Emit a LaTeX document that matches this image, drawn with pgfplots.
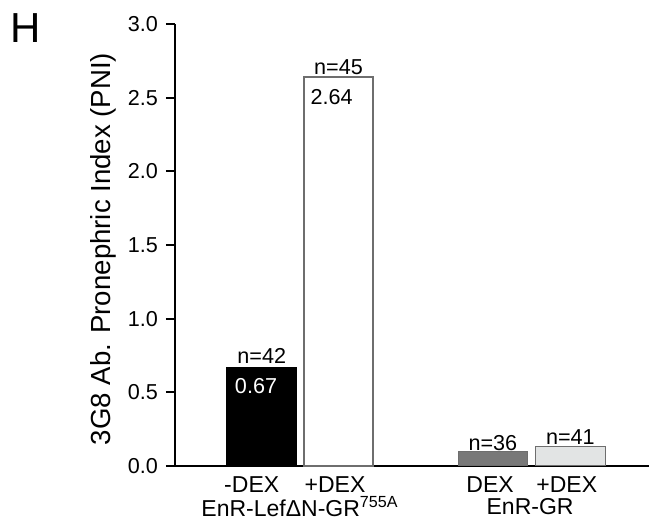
\documentclass[border=0pt]{standalone}
\usepackage{pgfplots}
\pgfplotsset{compat=1.18}
\usepackage{fontspec}
\setmainfont{Liberation Sans}
\definecolor{barg}{RGB}{120,120,120}
\definecolor{barlg}{RGB}{226,228,228}
\definecolor{edgeg}{RGB}{110,110,110}
\begin{document}
\begin{tikzpicture}
\useasboundingbox (0,0) rectangle (324.5pt,261pt);
\node[font=\fontsize{21}{24}\selectfont] at (12.75pt,247pt) {H};
\node[rotate=90,font=\fontsize{13.8}{16}\selectfont] at (51.5pt,136.5pt) {3G8 Ab. Pronephric Index (PNI)};
\begin{axis}[
  at={(87.5pt,28pt)}, anchor=south west,
  scale only axis, width=237pt, height=221pt,
  xmin=175, xmax=649, ymin=0, ymax=3,
  axis lines*=left,
  axis line style={line width=1pt, black},
  xtick=\empty,
  ytick={0,0.5,1,1.5,2,2.5,3},
  tick align=outside,
  major tick length=4.5pt,
  every tick/.style={black, line width=1pt},
  yticklabel style={font=\fontsize{10.8}{12}\selectfont, /pgf/number format/fixed, /pgf/number format/fixed zerofill, /pgf/number format/precision=1, xshift=-0.5pt},
  /pgf/number format/assume math mode=true,
  clip=false,
]
\addplot[ybar, bar shift=0pt, bar width=70, fill=black, draw=black, line width=0.5pt] coordinates {(261.7,0.67)};
\addplot[ybar, bar shift=0pt, bar width=69, fill=white, draw=edgeg, line width=0.6pt] coordinates {(338.5,2.64)};
\addplot[ybar, bar shift=0pt, bar width=69.5, fill=barg, draw=edgeg, line width=0.5pt] coordinates {(492.8,0.10)};
\addplot[ybar, bar shift=0pt, bar width=69.5, fill=barlg, draw=edgeg, line width=0.5pt] coordinates {(570.3,0.13)};
\begin{scope}[every node/.style={font=\fontsize{10.8}{12}\selectfont}]
\node at (axis cs:261.7,0.745) {n=42};
\node at (axis cs:338.5,2.709) {n=45};
\node at (axis cs:492.8,0.156) {n=36};
\node at (axis cs:570.3,0.199) {n=41};
\node[text=white] at (axis cs:256,0.543) {0.67};
\node at (axis cs:331.7,2.507) {2.64};
\end{scope}
\begin{scope}[every node/.style={font=\fontsize{11.5}{13}\selectfont}]
\node at (axis cs:251.7,-0.129) {-DEX};
\node at (axis cs:335,-0.129) {+DEX};
\node at (axis cs:490,-0.129) {DEX};
\node at (axis cs:566.7,-0.129) {+DEX};
\node at (axis cs:300,-0.276) {EnR-LefΔN-GR\textsuperscript{755A}};
\node at (axis cs:530,-0.276) {EnR-GR};
\end{scope}
\end{axis}
\end{tikzpicture}
\end{document}
